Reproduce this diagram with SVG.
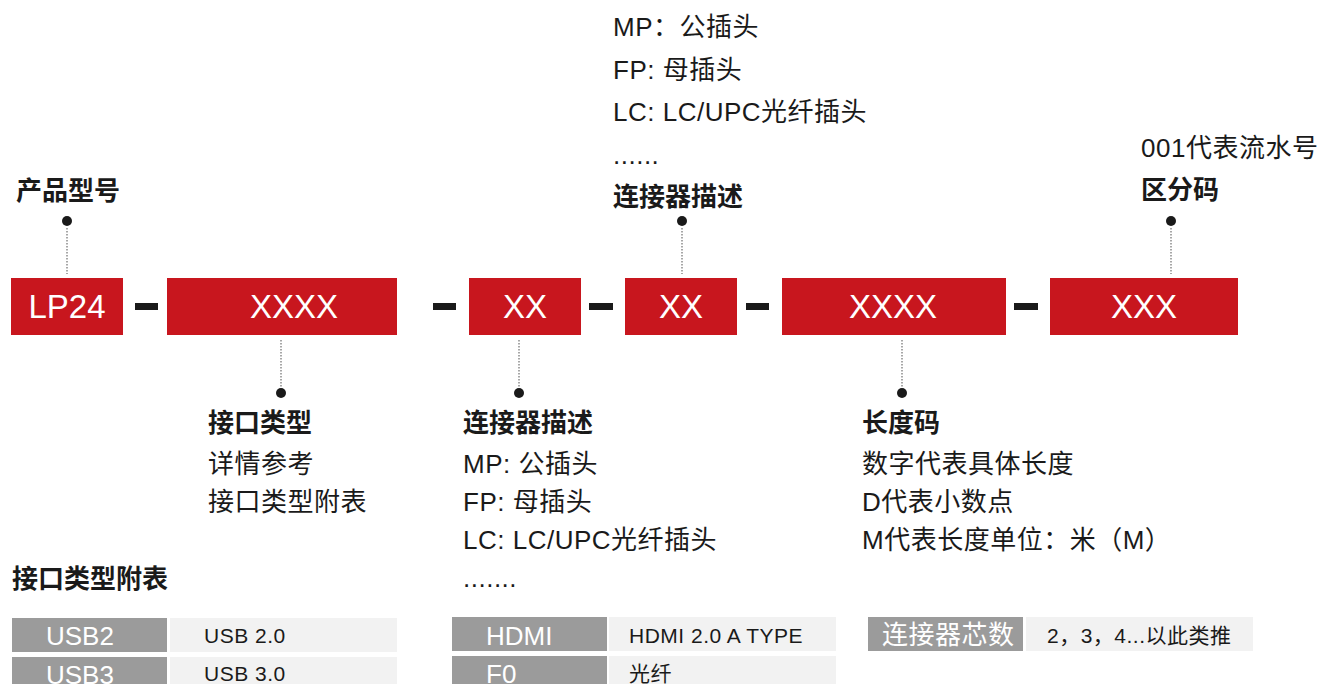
<svg xmlns="http://www.w3.org/2000/svg" width="1322" height="684" viewBox="0 0 1322 684">
<style>
text{font-family:"Liberation Sans","Noto Sans CJK SC",sans-serif;fill:#1a1a1a}
.box{fill:#c8161e}
.bt{font-size:33px;fill:#fff;text-anchor:middle}
.dash{fill:#1a1a1a}
.h{font-size:26px;font-weight:bold}
.t{font-size:26px;letter-spacing:0.5px}
.lead{stroke:#8a8a8a;stroke-width:1.5;stroke-dasharray:1.5 1.5;fill:none}
.dot{fill:#1a1a1a}
.gc{fill:#9b9b9b}
.lc{fill:#f2f2f2}
.gt{font-size:26px;fill:#fff}
.lt{font-size:21px;letter-spacing:0.5px}
</style>
<rect width="1322" height="684" fill="#fff"/>
<g id="connectors">
<line class="lead" x1="67" y1="228" x2="67" y2="274"/><circle class="dot" cx="67" cy="221" r="5"/>
<line class="lead" x1="281" y1="340" x2="281" y2="388"/><circle class="dot" cx="281" cy="393" r="5"/>
<line class="lead" x1="519" y1="340" x2="519" y2="388"/><circle class="dot" cx="519" cy="393" r="5"/>
<line class="lead" x1="682" y1="228" x2="682" y2="274"/><circle class="dot" cx="682" cy="221" r="5"/>
<line class="lead" x1="902" y1="340" x2="902" y2="388"/><circle class="dot" cx="902" cy="393" r="5"/>
<line class="lead" x1="1171" y1="228" x2="1171" y2="274"/><circle class="dot" cx="1171" cy="221" r="5"/>
<rect class="dash" x="135" y="303" width="23" height="7"/>
<rect class="dash" x="433" y="303" width="23" height="7"/>
<rect class="dash" x="589" y="303" width="24" height="7"/>
<rect class="dash" x="746" y="303" width="23" height="7"/>
<rect class="dash" x="1014" y="303" width="24" height="7"/>
</g>
<g id="n-lp24"><rect class="box" x="11" y="278" width="112" height="57"/><text class="bt" x="67" y="318">LP24</text></g>
<g id="n-xxxx1"><rect class="box" x="167" y="278" width="230" height="57"/><text class="bt" x="294" y="318">XXXX</text></g>
<g id="n-xx1"><rect class="box" x="469" y="278" width="112" height="57"/><text class="bt" x="525" y="318">XX</text></g>
<g id="n-xx2"><rect class="box" x="625" y="278" width="112" height="57"/><text class="bt" x="681" y="318">XX</text></g>
<g id="n-xxxx2"><rect class="box" x="782" y="278" width="224" height="57"/><text class="bt" x="893" y="318">XXXX</text></g>
<g id="n-xxx"><rect class="box" x="1050" y="278" width="188" height="57"/><text class="bt" x="1144" y="318">XXX</text></g>
<g id="l-product"><text class="h" x="16" y="200">产品型号</text></g>
<g id="l-connector-top">
<text class="t" x="613" y="36">MP：公插头</text>
<text class="t" x="613" y="79">FP: 母插头</text>
<text class="t" x="613" y="121">LC: LC/UPC光纤插头</text>
<text class="t" x="613" y="164">......</text>
<text class="h" x="613" y="206">连接器描述</text>
</g>
<g id="l-zone">
<text class="t" x="1141" y="157">001代表流水号</text>
<text class="h" x="1141" y="199">区分码</text>
</g>
<g id="l-iface">
<text class="h" x="208" y="432">接口类型</text>
<text class="t" x="208" y="473">详情参考</text>
<text class="t" x="208" y="511">接口类型附表</text>
</g>
<g id="l-connector-bottom">
<text class="h" x="463" y="432">连接器描述</text>
<text class="t" x="463" y="473">MP: 公插头</text>
<text class="t" x="463" y="511">FP: 母插头</text>
<text class="t" x="463" y="549">LC: LC/UPC光纤插头</text>
<text class="t" x="463" y="587">.......</text>
</g>
<g id="l-length">
<text class="h" x="862" y="432">长度码</text>
<text class="t" x="862" y="473">数字代表具体长度</text>
<text class="t" x="862" y="511">D代表小数点</text>
<text class="t" x="862" y="549">M代表长度单位：米（M）</text>
</g>
<g id="t-title"><text class="h" x="12" y="588">接口类型附表</text></g>
<g id="t-usb2"><rect class="gc" x="12" y="618" width="155" height="34"/><rect class="lc" x="170" y="618" width="227" height="34"/><text class="gt" x="46" y="645">USB2</text><text class="lt" x="204" y="643">USB 2.0</text></g>
<g id="t-usb3"><rect class="gc" x="12" y="657" width="155" height="34"/><rect class="lc" x="170" y="657" width="227" height="34"/><text class="gt" x="46" y="684">USB3</text><text class="lt" x="204" y="681">USB 3.0</text></g>
<g id="t-hdmi"><rect class="gc" x="452" y="617" width="155" height="34"/><rect class="lc" x="609" y="617" width="227" height="34"/><text class="gt" x="486" y="645">HDMI</text><text class="lt" x="629" y="643">HDMI 2.0 A TYPE</text></g>
<g id="t-f0"><rect class="gc" x="452" y="656" width="155" height="34"/><rect class="lc" x="609" y="656" width="227" height="34"/><text class="gt" x="486" y="683">F0</text><text class="lt" x="629" y="681">光纤</text></g>
<g id="t-cores"><rect class="gc" x="868" y="617" width="155" height="34"/><rect class="lc" x="1026" y="617" width="227" height="34"/><text class="gt" x="882" y="644" letter-spacing="0.5">连接器芯数</text><text class="lt" x="1047" y="643">2，3，4...以此类推</text></g>
</svg>
